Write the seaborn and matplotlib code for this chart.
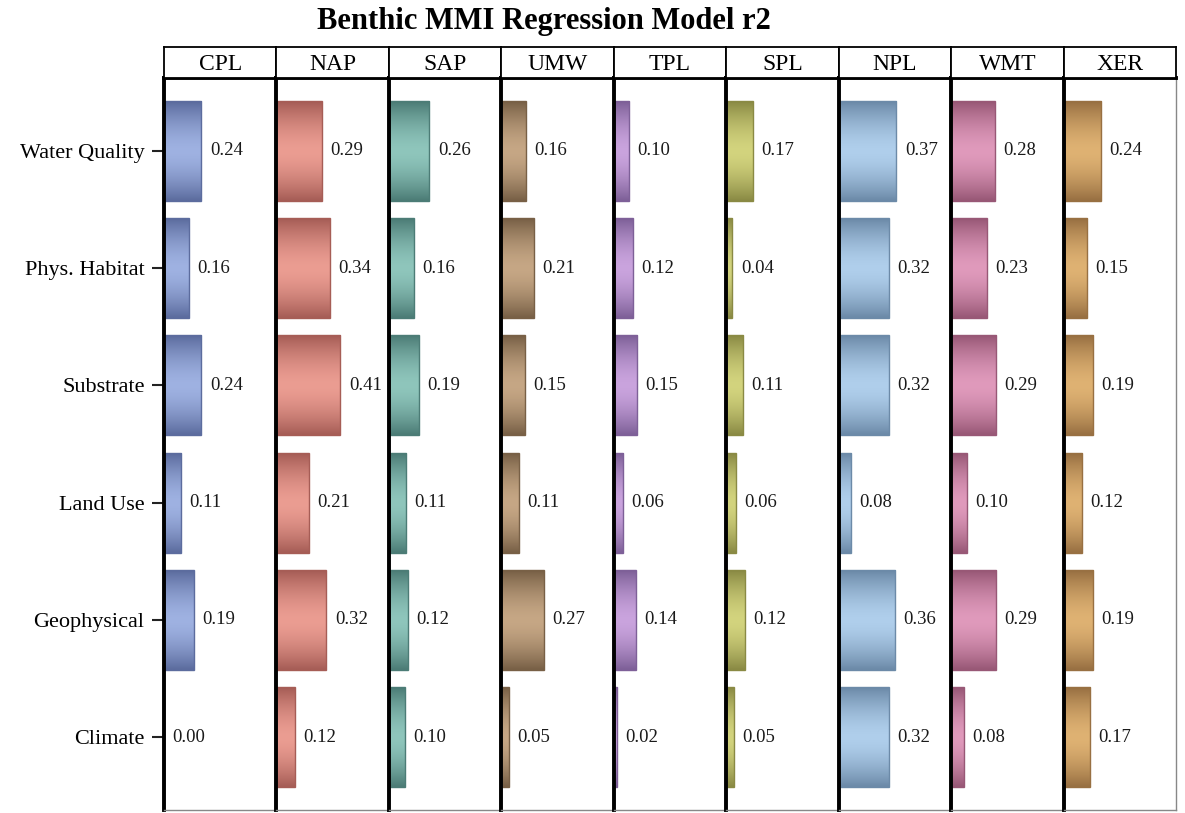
#!/usr/bin/env python3
"""
Benthic MMI regression model r2 - painéis por região (barras horizontais).
"""
import numpy as np
import pandas as pd
import seaborn as sns
import matplotlib.pyplot as plt
import matplotlib.colors as mcolors

regions = ["CPL", "NAP", "SAP", "UMW", "TPL", "SPL", "NPL", "WMT", "XER"]
predictors = ["Water Quality", "Phys. Habitat", "Substrate", "Land Use", "Geophysical", "Climate"]

r2_cpl = [0.24, 0.16, 0.24, 0.11, 0.19, 0.00]
r2_nap = [0.29, 0.34, 0.41, 0.21, 0.32, 0.12]
r2_sap = [0.26, 0.16, 0.19, 0.11, 0.12, 0.10]
r2_umw = [0.16, 0.21, 0.15, 0.11, 0.27, 0.05]
r2_tpl = [0.10, 0.12, 0.15, 0.06, 0.14, 0.02]
r2_spl = [0.17, 0.04, 0.11, 0.06, 0.12, 0.05]
r2_npl = [0.37, 0.32, 0.32, 0.08, 0.36, 0.32]
r2_wmt = [0.28, 0.23, 0.29, 0.10, 0.29, 0.08]
r2_xer = [0.24, 0.15, 0.19, 0.12, 0.19, 0.17]

# cor clara (centro da barra) e escura (bordas)
light = ["#9fb2e2", "#eb9d92", "#8fc6bc", "#c6a785", "#caa4de", "#d3d47e",
         "#b0cfec", "#e09abc", "#dfb273"]
dark = ["#5c6c9e", "#a65d56", "#4c7c76", "#786046", "#7e6098", "#8a8a44",
        "#6c8aa8", "#985876", "#987042"]

all_vals = [r2_cpl, r2_nap, r2_sap, r2_umw, r2_tpl, r2_spl, r2_npl, r2_wmt, r2_xer]
df = pd.DataFrame({
    "region": np.repeat(regions, len(predictors)),
    "predictor": predictors * len(regions),
    "r2": np.concatenate(all_vals),
})

sns.set_theme(style="white")
plt.rcParams["font.family"] = ["Liberation Serif", "DejaVu Serif"]
plt.rcParams["text.color"] = "black"
plt.rcParams["ytick.color"] = "black"

W, H = 1185, 813
fig = plt.figure(figsize=(W / 100, H / 100), dpi=100)

x0, x1 = 164 / W, 1176 / W
pw = (x1 - x0) / len(regions)
head_top, head_bot = 1 - 47 / H, 1 - 78 / H
plot_bot = 1 - 810 / H

fig.text(544 / W, 1 - 21 / H, "Benthic MMI Regression Model r2", ha="center", va="center",
         fontsize=22, fontweight="bold")


def gradient_fill(ax, patch, c_light, c_dark):
    b = patch.get_bbox()
    n = 64
    t = np.abs(np.linspace(-1, 1, n)) ** 1.6
    cl = np.array(mcolors.to_rgb(c_light))
    cd = np.array(mcolors.to_rgb(c_dark))
    grad = cl[None, :] * (1 - t[:, None]) + cd[None, :] * t[:, None]
    img = grad[:, None, :]
    im = ax.imshow(img, extent=[b.x0, b.x1, b.y1, b.y0], aspect="auto",
                   interpolation="bilinear", zorder=patch.get_zorder() - 0.1)
    im.set_clip_path(patch)
    patch.set_facecolor("none")
    patch.set_edgecolor(c_dark)
    patch.set_linewidth(1.0)


for i, reg in enumerate(regions):
    sub = df[df["region"] == reg]
    ax = fig.add_axes([x0 + i * pw, plot_bot, pw, head_bot - plot_bot])
    sns.barplot(data=sub, x="r2", y="predictor", order=predictors, orient="h",
                color=light[i], width=0.85, ax=ax)
    for p in list(ax.patches):
        gradient_fill(ax, p, light[i], dark[i])
    ax.bar_label(ax.containers[0], fmt="%.2f", padding=6, fontsize=13.5, color="#1a1a1a")
    ax.set_xlim(0, 0.72)
    ax.set_ylim(5.62, -0.62)
    ax.set_xlabel("")
    ax.set_ylabel("")
    ax.set_xticks([])
    if i == 0:
        ax.tick_params(axis="y", length=9, width=1.5, pad=5, labelsize=16, left=True,
                       color="#222222", labelcolor="black")
    else:
        ax.set_yticks([])
    ax.spines["left"].set_linewidth(2.8)
    ax.spines["left"].set_color("black")
    ax.spines["top"].set_linewidth(2.8)
    ax.spines["top"].set_color("black")
    ax.spines["bottom"].set_linewidth(1.0)
    ax.spines["bottom"].set_color("#888888")
    if i == len(regions) - 1:
        ax.spines["right"].set_linewidth(1.0)
        ax.spines["right"].set_color("#888888")
    else:
        ax.spines["right"].set_visible(False)

    hx = fig.add_axes([x0 + i * pw, head_bot, pw, head_top - head_bot])
    hx.set_xticks([])
    hx.set_yticks([])
    for s in hx.spines.values():
        s.set_linewidth(1.3)
        s.set_color("black")
    hx.text(0.5, 0.45, reg, ha="center", va="center", fontsize=17, transform=hx.transAxes)

fig.savefig("out.png", dpi=100)
